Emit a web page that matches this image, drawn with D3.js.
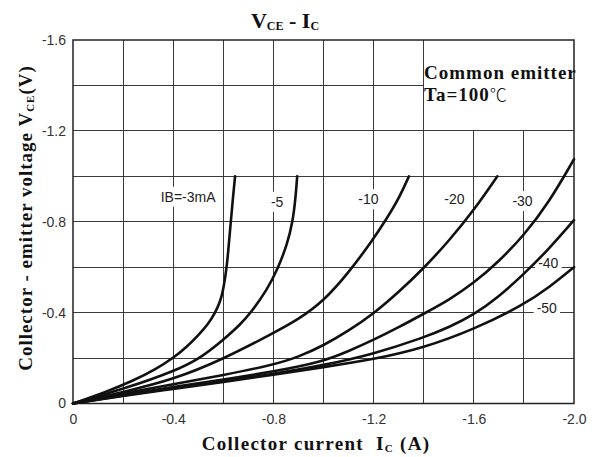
<!DOCTYPE html>
<html><head><meta charset="utf-8">
<script src="https://cdn.jsdelivr.net/npm/d3@7"></script>
<style>
html,body{margin:0;padding:0;background:#fff;}
svg{display:block;}
</style></head>
<body>
<svg id="chart" width="592" height="457"></svg>
<script>
// ---- data ----
const seriesNames = ["IB=-3mA", "-5", "-10", "-20", "-30", "-40", "-50"];
const ic3  = [0, -0.13, -0.24, -0.33, -0.4, -0.455, -0.5, -0.54, -0.568, -0.588, -0.6, -0.614, -0.622, -0.63, -0.638, -0.647];
const vce3 = [0, -0.05, -0.1, -0.15, -0.2, -0.25, -0.3, -0.35, -0.4, -0.45, -0.5, -0.6, -0.7, -0.8, -0.9, -1.0];
const ic5  = [0, -0.22, -0.4, -0.51, -0.6, -0.67, -0.71, -0.775, -0.82, -0.855, -0.877, -0.888, -0.895];
const vce5 = [0, -0.07, -0.14, -0.2, -0.28, -0.35, -0.4, -0.5, -0.6, -0.7, -0.8, -0.9, -1.0];
const ic10  = [0, -0.2, -0.4, -0.6, -0.8, -0.9, -1.0, -1.1, -1.2, -1.25, -1.3, -1.341];
const vce10 = [0, -0.05, -0.105, -0.195, -0.31, -0.37, -0.45, -0.575, -0.725, -0.81, -0.9, -1.0];
const ic20  = [0, -0.2, -0.4, -0.6, -0.8, -0.9, -1.0, -1.1, -1.2, -1.3, -1.4, -1.5, -1.6, -1.694];
const vce20 = [0, -0.045, -0.085, -0.125, -0.17, -0.205, -0.255, -0.32, -0.395, -0.49, -0.595, -0.715, -0.85, -1.0];
const ic30  = [0, -0.2, -0.4, -0.6, -0.8, -1.0, -1.1, -1.2, -1.3, -1.4, -1.5, -1.6, -1.7, -1.8, -1.9, -2.0];
const vce30 = [0, -0.038, -0.073, -0.105, -0.14, -0.185, -0.23, -0.28, -0.335, -0.395, -0.455, -0.53, -0.625, -0.74, -0.885, -1.075];
const ic40  = [0, -0.2, -0.4, -0.6, -0.8, -1.0, -1.2, -1.4, -1.5, -1.6, -1.7, -1.8, -1.9, -2.0];
const vce40 = [0, -0.036, -0.067, -0.098, -0.13, -0.168, -0.218, -0.29, -0.335, -0.39, -0.47, -0.57, -0.68, -0.807];
const ic50  = [0, -0.2, -0.4, -0.6, -0.8, -1.0, -1.2, -1.4, -1.6, -1.8, -1.9, -2.0];
const vce50 = [0, -0.034, -0.064, -0.095, -0.127, -0.16, -0.194, -0.245, -0.326, -0.435, -0.51, -0.6];
const xTickValues = [0, -0.4, -0.8, -1.2, -1.6, -2.0];
const xTickLabels = ["0", "-0.4", "-0.8", "-1.2", "-1.6", "-2.0"];
const yTickValues = [0, -0.4, -0.8, -1.2, -1.6];
const yTickLabels = ["0", "-0.4", "-0.8", "-1.2", "-1.6"];
// label anchors in data units
const labelIc  = [-0.35, -0.79, -1.139, -1.482, -1.754, -1.857, -1.851];
const labelVce = [-0.888, -0.866, -0.877, -0.877, -0.869, -0.595, -0.397];

const allIc = [ic3, ic5, ic10, ic20, ic30, ic40, ic50];
const allV  = [vce3, vce5, vce10, vce20, vce30, vce40, vce50];

// ---- layout ----
const svg = d3.select("#chart");
const L = 73, R = 574, T = 40, B = 403.5;
const x = d3.scaleLinear().domain([0, -2.0]).range([L, R]);
const y = d3.scaleLinear().domain([0, -1.6]).range([B, T]);

const serif = "'Liberation Serif','Times New Roman',serif";
const sans = "'Liberation Sans',Arial,sans-serif";

// grid
const grid = svg.append("g").attr("stroke", "#3a3a3a").attr("stroke-width", 1).attr("shape-rendering", "crispEdges");
const xg = d3.range(1, 10).map(i => -0.2 * i);
const yg = d3.range(1, 8).map(i => -0.2 * i);
grid.selectAll("line.v").data(xg).join("line")
  .attr("x1", d => x(d)).attr("x2", d => x(d))
  .attr("y1", y(0)).attr("y2", d => (d < -1.41 ? y(-1.2) : y(-1.6)));
grid.selectAll("line.h").data(yg).join("line")
  .attr("y1", d => y(d)).attr("y2", d => y(d))
  .attr("x1", x(0)).attr("x2", d => (d < -1.21 ? x(-1.4) : x(-2.0)));

// label backgrounds + labels
const lblG = svg.append("g");
seriesNames.forEach((name, i) => {
  const t = lblG.append("text")
    .attr("x", x(labelIc[i])).attr("y", y(labelVce[i]))
    .attr("font-family", sans).attr("font-size", 14).attr("fill", "#222")
    .text(name);
  const bb = t.node().getBBox();
  lblG.insert("rect", "text")
    .attr("x", bb.x - 3).attr("y", bb.y - 2)
    .attr("width", bb.width + 6).attr("height", bb.height + 4)
    .attr("fill", "#fff");
});

// frame
svg.append("rect").attr("x", L).attr("y", T).attr("width", R - L).attr("height", B - T)
  .attr("fill", "none").attr("stroke", "#222").attr("stroke-width", 1.5);

// curves
const line = d3.line().x(d => x(d[0])).y(d => y(d[1])).curve(d3.curveBasis);
svg.append("g").selectAll("path").data(allIc.map((ic, i) => ic.map((v, j) => [v, allV[i][j]])))
  .join("path").attr("d", line)
  .attr("fill", "none").attr("stroke", "#111").attr("stroke-width", 2.6)
  .attr("stroke-linejoin", "round").attr("stroke-linecap", "round");

// axes
const yAxis = svg.append("g").attr("transform", `translate(${L},0)`)
  .call(d3.axisLeft(y).tickValues(yTickValues).tickSize(0).tickPadding(7)
    .tickFormat((d, i) => yTickLabels[i]));
const xAxis = svg.append("g").attr("transform", `translate(0,${B})`)
  .call(d3.axisBottom(x).tickValues(xTickValues).tickSize(0).tickPadding(11)
    .tickFormat((d, i) => xTickLabels[i]));
[xAxis, yAxis].forEach(a => {
  a.select(".domain").remove();
  a.selectAll("text").attr("font-family", sans).attr("font-size", 14).attr("fill", "#333");
});

// title
const title = svg.append("text").attr("x", 285).attr("y", 28).attr("text-anchor", "middle")
  .attr("font-family", serif).attr("font-weight", "bold").attr("font-size", 22).attr("fill", "#111");
title.append("tspan").text("V");
title.append("tspan").attr("font-size", 12).attr("dy", 2).text("CE");
title.append("tspan").attr("dy", -2).text(" - I");
title.append("tspan").attr("font-size", 12).attr("dy", 2).text("C");

// x label
const xl = svg.append("text").attr("x", 316).attr("y", 450).attr("text-anchor", "middle")
  .attr("font-family", serif).attr("font-weight", "bold").attr("font-size", 19)
  .attr("letter-spacing", 1.3).attr("fill", "#111");
xl.append("tspan").text("Collector current\u00a0 I");
xl.append("tspan").attr("font-size", 11).attr("dy", 2).text("C");
xl.append("tspan").attr("dy", -2).text(" (A)");

// y label
const yl = svg.append("text").attr("transform", "translate(32,218) rotate(-90)").attr("text-anchor", "middle")
  .attr("font-family", serif).attr("font-weight", "bold").attr("font-size", 19)
  .attr("letter-spacing", 1).attr("fill", "#111");
yl.append("tspan").text("Collector - emitter voltage V");
yl.append("tspan").attr("font-size", 11).attr("dy", 2).text("CE");
yl.append("tspan").attr("dy", -2).text("(V)");

// annotation
svg.append("text").attr("x", 424).attr("y", 79).attr("font-family", serif).attr("font-weight", "bold")
  .attr("font-size", 19).attr("letter-spacing", 1).attr("fill", "#111").text("Common emitter");
const ta = svg.append("text").attr("x", 424).attr("y", 101).attr("font-family", serif)
  .attr("font-size", 19).attr("fill", "#111");
ta.append("tspan").attr("font-weight", "bold").attr("letter-spacing", 1).text("Ta=100");
ta.append("tspan").attr("font-family", "'Noto Sans CJK SC',sans-serif").attr("font-size", 17).attr("font-weight", "300").text("℃");
</script>
</body></html>
